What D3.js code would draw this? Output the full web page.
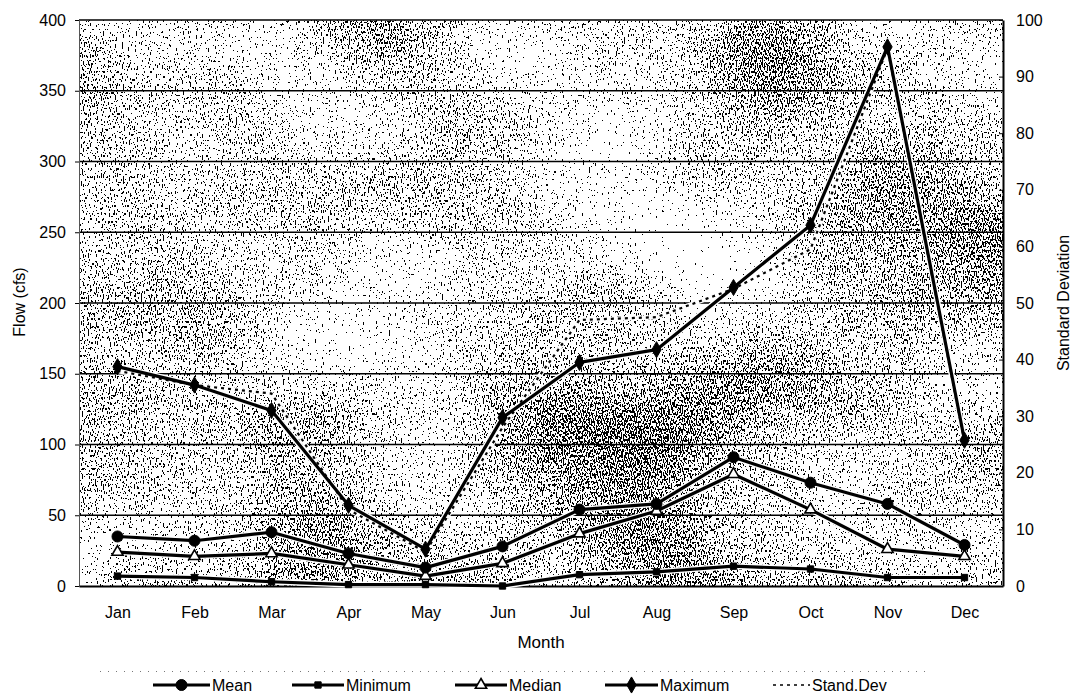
<!DOCTYPE html>
<html>
<head>
<meta charset="utf-8">
<script src="https://cdn.jsdelivr.net/npm/d3@7"></script>
<style>
  html, body { margin: 0; padding: 0; background: #fff; }
  svg { display: block; font-family: "Liberation Sans", Arial, Helvetica, sans-serif; }
</style>
</head>
<body>
<svg id="chart" width="1077" height="698"></svg>
<script>
// Monthly flow statistics (cfs) and standard deviation
const months   = ["Jan", "Feb", "Mar", "Apr", "May", "Jun", "Jul", "Aug", "Sep", "Oct", "Nov", "Dec"];
const maximum  = [155, 142, 124, 57, 26, 119, 158, 167, 211, 255, 381, 103];
const mean     = [35, 32, 38, 23, 13, 28, 54, 58, 91, 73, 58, 29];
const median   = [24, 21, 23, 15, 7, 16, 37, 53, 79, 54, 26, 21];
const minimum  = [7, 6, 3, 1, 1, 0, 8, 10, 14, 12, 6, 6];
const standDev = [38, 35.5, 34, 13.5, 6, 28, 47, 47.5, 52.5, 59.5, 95, 25.5];
const flowTicks = [0, 50, 100, 150, 200, 250, 300, 350, 400];
const sdTicks   = [0, 10, 20, 30, 40, 50, 60, 70, 80, 90, 100];

const svg = d3.select("#chart");
const plotLeft = 79, plotRight = 1003, plotTop = 20, plotBottom = 586;

const x  = d3.scalePoint().domain(months).range([plotLeft, plotRight]).padding(0.5);
const yL = d3.scaleLinear().domain([0, 400]).range([plotBottom, plotTop]);
const yR = d3.scaleLinear().domain([0, 100]).range([plotBottom, plotTop]);

// speckled plot-area texture
const defs = svg.append("defs");
const f = defs.append("filter").attr("id", "grain")
  .attr("x", 0).attr("y", 0).attr("width", 1).attr("height", 1)
  .attr("color-interpolation-filters", "sRGB");
f.append("feTurbulence").attr("type", "fractalNoise").attr("baseFrequency", "0.85 0.38")
  .attr("numOctaves", 1).attr("seed", 7).attr("result", "fineRaw");
f.append("feColorMatrix").attr("in", "fineRaw").attr("type", "matrix")
  .attr("values", "1 0 0 0 0  1 0 0 0 0  1 0 0 0 0  0 0 0 0 1").attr("result", "fine");
f.append("feTurbulence").attr("type", "fractalNoise").attr("baseFrequency", "0.004 0.006")
  .attr("numOctaves", 2).attr("seed", 21).attr("result", "coarseRaw");
f.append("feColorMatrix").attr("in", "coarseRaw").attr("type", "matrix")
  .attr("values", "1 0 0 0 0  1 0 0 0 0  1 0 0 0 0  0 0 0 0 1").attr("result", "coarse");
f.append("feComposite").attr("in", "fine").attr("in2", "coarse").attr("operator", "arithmetic")
  .attr("k1", 0).attr("k2", 1.6).attr("k3", 0.6).attr("k4", -0.6).attr("result", "mix");
f.append("feColorMatrix").attr("in", "mix").attr("type", "matrix")
  .attr("values", "0 0 0 0 0  0 0 0 0 0  0 0 0 0 0  1 0 0 0 0").attr("result", "a");
const ct = f.append("feComponentTransfer").attr("in", "a");
ct.append("feFuncA").attr("type", "discrete")
  .attr("tableValues", d3.range(40).map(i => i >= 27 ? 1 : 0).join(" "));

svg.append("rect")
  .attr("x", plotLeft).attr("y", plotTop).attr("width", plotRight - plotLeft).attr("height", plotBottom - plotTop)
  .attr("fill", "#fff");
svg.append("rect")
  .attr("x", plotLeft).attr("y", plotTop).attr("width", plotRight - plotLeft).attr("height", plotBottom - plotTop)
  .attr("fill", "#fff").attr("filter", "url(#grain)");

// horizontal gridlines
svg.append("g").selectAll("line").data(flowTicks.filter(d => d > 0)).join("line")
  .attr("x1", plotLeft).attr("x2", plotRight)
  .attr("y1", d => yL(d)).attr("y2", d => yL(d))
  .attr("stroke", "#000").attr("stroke-width", 1.6);

// left axis
const gL = svg.append("g").attr("transform", `translate(${plotLeft},0)`)
  .call(d3.axisLeft(yL).tickValues(flowTicks).tickSize(4).tickPadding(9));
gL.select(".domain").attr("stroke", "#555").attr("stroke-width", 1);
gL.selectAll(".tick line").attr("stroke", "#000");
gL.selectAll("text").attr("font-size", 16).attr("fill", "#000")
  .attr("font-family", "Liberation Sans, Arial, sans-serif");

// right axis
const gR = svg.append("g").attr("transform", `translate(${plotRight},0)`)
  .call(d3.axisRight(yR).tickValues(sdTicks).tickSizeInner(-4).tickSizeOuter(0).tickPadding(13));
gR.select(".domain").attr("stroke", "#000").attr("stroke-width", 2);
gR.selectAll(".tick line").attr("stroke", "#000");
gR.selectAll("text").attr("font-size", 16).attr("fill", "#000")
  .attr("font-family", "Liberation Sans, Arial, sans-serif");

// bottom axis
const gB = svg.append("g").attr("transform", `translate(0,${plotBottom})`)
  .call(d3.axisBottom(x).tickSize(0).tickPadding(21));
gB.select(".domain").attr("stroke", "#000").attr("stroke-width", 2.2);
gB.selectAll("text").attr("font-size", 16).attr("fill", "#000")
  .attr("font-family", "Liberation Sans, Arial, sans-serif");

// axis titles
svg.append("text").attr("x", 541).attr("y", 648).attr("text-anchor", "middle")
  .attr("font-size", 17).text("Month");
svg.append("text").attr("transform", "translate(25,302) rotate(-90)")
  .attr("text-anchor", "middle").attr("font-size", 16).text("Flow (cfs)");
svg.append("text").attr("transform", "translate(1069,303) rotate(-90)")
  .attr("text-anchor", "middle").attr("font-size", 16).text("Standard Deviation");

// series
const lineL = d3.line().x((d, i) => x(months[i])).y(d => yL(d));
const lineR = d3.line().x((d, i) => x(months[i])).y(d => yR(d));

const solid = [
  { name: "Minimum", data: minimum, marker: "square" },
  { name: "Median",  data: median,  marker: "triangle" },
  { name: "Mean",    data: mean,    marker: "circle" },
  { name: "Maximum", data: maximum, marker: "diamond" }
];

const symbols = {
  circle:   d3.symbol().type(d3.symbolCircle).size(95),
  square:   d3.symbol().type(d3.symbolSquare).size(40),
  triangle: d3.symbol().type(d3.symbolTriangle).size(55),
  diamond:  d3.symbol().type(d3.symbolDiamond).size(75)
};

function drawMarker(g, type, cx, cy) {
  g.append("path").attr("d", symbols[type]())
    .attr("transform", `translate(${cx},${cy})`)
    .attr("fill", type === "triangle" ? "#fff" : "#000")
    .attr("stroke", "#000").attr("stroke-width", type === "triangle" ? 1.6 : 1);
}

const series = svg.append("g");
// white halos keep the lines legible over the texture
solid.forEach(s => {
  series.append("path").datum(s.data).attr("d", lineL)
    .attr("fill", "none").attr("stroke", "#fff").attr("stroke-width", 6)
    .attr("stroke-linejoin", "round");
});
series.append("path").datum(standDev).attr("d", lineR)
  .attr("fill", "none").attr("stroke", "#fff").attr("stroke-width", 4.5);
series.append("path").datum(standDev).attr("d", lineR)
  .attr("fill", "none").attr("stroke", "#000").attr("stroke-width", 2.2)
  .attr("stroke-dasharray", "3,4");
solid.forEach(s => {
  series.append("path").datum(s.data).attr("d", lineL)
    .attr("fill", "none").attr("stroke", "#000").attr("stroke-width", 3.2)
    .attr("stroke-linejoin", "round");
});
solid.forEach(s => {
  s.data.forEach((v, i) => drawMarker(series, s.marker, x(months[i]), yL(v)));
});

// legend
const legend = svg.append("g");
legend.append("line").attr("x1", 100).attr("x2", 930).attr("y1", 671.5).attr("y2", 671.5)
  .attr("stroke", "#777").attr("stroke-width", 1).attr("stroke-dasharray", "1,7");
const legendItems = [
  { name: "Mean",      x0: 153, x1: 210, marker: "circle" },
  { name: "Minimum",   x0: 292, x1: 344, marker: "square" },
  { name: "Median",    x0: 455, x1: 507, marker: "triangle" },
  { name: "Maximum",   x0: 605, x1: 658, marker: "diamond" },
  { name: "Stand.Dev", x0: 773, x1: 810, marker: null }
];
const ly = 685;
legendItems.forEach(it => {
  const ln = legend.append("line").attr("x1", it.x0).attr("x2", it.x1)
    .attr("y1", ly).attr("y2", ly).attr("stroke", "#000");
  if (it.marker) {
    ln.attr("stroke-width", 3);
    drawMarker(legend, it.marker, (it.x0 + it.x1) / 2, ly);
  } else {
    ln.attr("stroke-width", 1.6).attr("stroke-dasharray", "3,4");
  }
  legend.append("text").attr("x", it.x1 + 2).attr("y", ly + 6)
    .attr("font-size", 16).text(it.name);
});
</script>
</body>
</html>
